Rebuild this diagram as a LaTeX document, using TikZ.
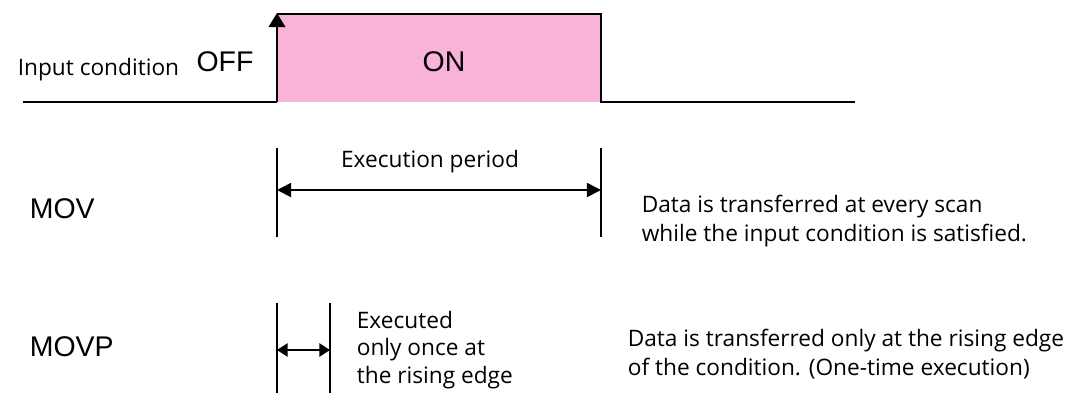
\documentclass[tikz,border=0pt]{standalone}
\usepackage{fontspec}
\setmainfont{Open Sans}
\newfontfamily\arialfont{Liberation Sans}
\usetikzlibrary{arrows.meta}
\definecolor{onpink}{HTML}{F9B3D9}

\begin{document}
\begin{tikzpicture}[x=0.02cm, y=-0.02cm, line width=0.95pt,
    label/.style={inner sep=0pt, font=\fontsize{12.9}{16.5}\selectfont},
    sig/.style={inner sep=0pt, font=\arialfont\fontsize{16.2}{18}\selectfont},
    tip/.style={-{Triangle[length=8pt, width=9.5pt]}},
    both/.style={{Triangle[length=8pt, width=8pt]}-{Triangle[length=8pt, width=8pt]}},
    bothshort/.style={{Triangle[length=6pt, width=7.5pt]}-{Triangle[length=6pt, width=7.5pt]}}]
    \useasboundingbox (0,0) rectangle (1070,393);

    % input condition signal
    \fill [onpink] (278,14) rectangle (600,102);
    \coordinate (start) at (23,102);
    \coordinate (rise) at (277,102);
    \coordinate (risetop) at (277,13);
    \coordinate (falltop) at (601,14);
    \coordinate (fall) at (601,102);
    \coordinate (stop) at (855,102);
    \draw (start) -- (rise);
    \draw [tip] (rise) -- (risetop);
    \draw (277,14) -- (falltop) -- (fall) -- (stop);

    \node [label, anchor=west] (inp) at (17,70) {Input condition};
    \node [sig] (off) at (225,62) {OFF};
    \node [sig] (on) at (444,62) {ON};

    % MOV
    \node [sig, anchor=west] (mov) at (29,209) {MOV};
    \coordinate (mova) at (277,148);
    \coordinate (movb) at (277,237);
    \coordinate (movc) at (601,148);
    \coordinate (movd) at (601,237);
    \draw (mova) -- (movb);
    \draw (movc) -- (movd);
    \coordinate (pl) at (277,190);
    \coordinate (pr) at (601,190);
    \draw [both] (pl) -- (pr);
    \node [label] (period) at (430,162) {Execution period};
    \node [label, anchor=west, align=left] (movtext) at (641,221)
          {Data is transferred at every scan\\while the input condition is satisfied.};

    % MOVP
    \node [sig, anchor=west] (movp) at (29,347) {MOVP};
    \coordinate (pa) at (277,303);
    \coordinate (pb) at (277,393);
    \coordinate (pc) at (330,303);
    \coordinate (pd) at (330,393);
    \draw (pa) -- (pb);
    \draw (pc) -- (pd);
    \coordinate (ol) at (277,350);
    \coordinate (or) at (330,350);
    \draw [bothshort] (ol) -- (or);
    \node [label, anchor=west, align=left, font=\fontsize{12.9}{15.5}\selectfont] (once) at (356,350)
          {Executed\\only once at\\the rising edge};
    \node [label, anchor=west, align=left] (movptext) at (627,354)
          {Data is transferred only at the rising edge\\of the condition. (One-time execution)};
\end{tikzpicture}
\end{document}
